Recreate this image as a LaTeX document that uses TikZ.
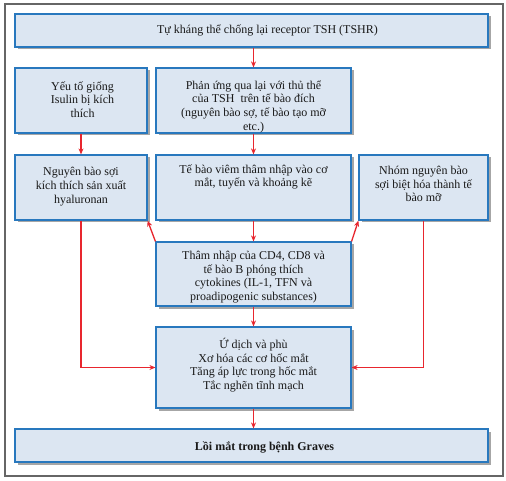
\documentclass[tikz,border=0pt]{standalone}
\usepackage{fontspec}
\setmainfont{Liberation Serif}
\usetikzlibrary{arrows.meta,shadows}
\definecolor{boxfill}{HTML}{DCE6F2}
\definecolor{boxline}{HTML}{2878BE}
\definecolor{arr}{HTML}{E8262E}
\definecolor{framec}{HTML}{666666}
\tikzset{
  box/.style={draw=boxline, fill=boxfill, line width=1.2pt, inner sep=0pt, rectangle,
    drop shadow={shadow xshift=2.5pt, shadow yshift=-2.5pt, fill=black!35, opacity=1}},
  txt/.style={align=center, font=\fontsize{12}{13.7}\selectfont, inner sep=0pt, text=black!90},
  arrowline/.style={draw=arr, line width=1.3pt, -{Stealth[length=6pt,width=5pt]}},
}
\begin{document}
\begin{tikzpicture}[x=1pt,y=-1pt]
\useasboundingbox (0,0) rectangle (506,481);
\fill[white] (0,0) rectangle (506,481);
\draw[framec, line width=1.2pt] (5,4) rectangle (503,476);
% boxes
\node[box, minimum width=473pt, minimum height=33pt] (T) at (251.5,30.5) {};
\node[box, minimum width=132pt, minimum height=65pt] (A) at (81,100.5) {};
\node[box, minimum width=195pt, minimum height=65pt] (B) at (253.5,100.5) {};
\node[box, minimum width=132pt, minimum height=65pt] (C) at (81,187.5) {};
\node[box, minimum width=195pt, minimum height=65pt] (D) at (253.5,187.5) {};
\node[box, minimum width=129pt, minimum height=65pt] (E) at (423.5,187.5) {};
\node[box, minimum width=195pt, minimum height=64pt] (F) at (253.5,274) {};
\node[box, minimum width=195pt, minimum height=81pt] (G) at (253.5,367.5) {};
\node[box, minimum width=473pt, minimum height=33pt] (H) at (251.5,445.5) {};
% texts
\node[txt] (Tt) at (267.5,30) {Tự kháng thể chống lại receptor TSH (TSHR)};
\node[txt] (At) at (82.5,99.5) {Yếu tố giống\\Isulin bị kích\\thích};
\node[txt] (Bt) at (253.5,106.5) {Phản ứng qua lại với thủ thể\\của TSH\ \ trên tế bào đích\\(nguyên bào sợ, tế bào tạo mỡ\\etc.)};
\node[txt] (Ct) at (81,186.5) {Nguyên bào sợi\\kích thích sản xuất\\hyaluronan};
\node[txt] (Dt) at (253.5,177) {Tế bào viêm thâm nhập vào cơ\\mắt, tuyến và khoảng kẽ};
\node[txt] (Et) at (423.5,184) {Nhóm nguyên bào\\sợi biệt hóa thành tế\\bào mỡ};
\node[txt] (Ft) at (253.5,277) {Thâm nhập của CD4, CD8 và\\tế bào B phóng thích\\cytokines (IL-1, TFN và\\proadipogenic substances)};
\node[txt] (Gt) at (253.5,365) {Ứ dịch và phù\\Xơ hóa các cơ hốc mắt\\Tăng áp lực trong hốc mắt\\Tắc nghẽn tĩnh mạch};
\node[txt, font=\fontsize{12}{13.7}\selectfont\bfseries] (Ht) at (264.5,447) {Lồi mắt trong bệnh Graves};
% connectors
\draw[arrowline] (B.north |- T.south) -- (B.north);
\draw[arrowline] (A.south) -- (C.north);
\draw[arrowline] (B.south) -- (D.north);
\draw[arrowline] (D.south) -- (F.north);
\draw[arrowline] (F.north west) -- (C.south east);
\draw[arrowline] (F.north east) -- (E.south west);
\draw[arrowline] (F.south) -- (G.north);
\draw[arrowline] (C.south) |- (G.west);
\draw[arrowline] (E.south) |- (G.east);
\draw[arrowline] (G.south) -- (H.north -| G.south);
\end{tikzpicture}
\end{document}
